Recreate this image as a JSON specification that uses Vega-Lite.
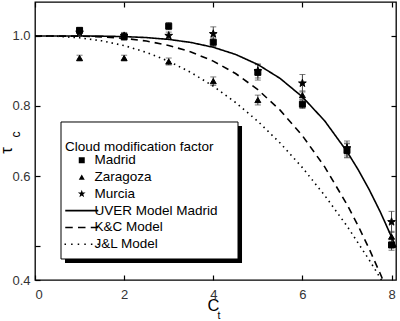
{
  "$schema": "https://vega.github.io/schema/vega-lite/v6.json",
  "width": 361,
  "height": 278,
  "autosize": {"type": "none"},
  "padding": {"left": 35, "top": 2, "right": 4, "bottom": 41},
  "background": "white",
  "config": {
    "font": "Liberation Sans",
    "view": {"stroke": "black", "strokeWidth": 1.3},
    "axis": {
      "domain": false,
      "grid": false,
      "tickColor": "black",
      "tickWidth": 1.2,
      "tickSize": -5,
      "labelFont": "Liberation Sans",
      "labelFontSize": 13,
      "labelColor": "#333",
      "titleFont": "Liberation Sans",
      "titleColor": "black",
      "titleFontWeight": "normal"
    },
    "legend": {
      "orient": "none",
      "legendX": 26,
      "legendY": 120,
      "strokeColor": "transparent",
      "fillColor": "transparent",
      "padding": 4,
      "titleFont": "Liberation Sans",
      "titleFontSize": 13.5,
      "titleFontWeight": "normal",
      "titleColor": "black",
      "titlePadding": 0,
      "titleLineHeight": 14,
      "labelFont": "Liberation Sans",
      "labelFontSize": 13.5,
      "labelColor": "black",
      "labelOffset": 6,
      "symbolOffset": 10,
      "symbolSize": 36,
      "symbolStrokeColor": "black",
      "symbolFillColor": "black",
      "symbolStrokeWidth": 0,
      "rowPadding": 1.8
    }
  },
  "datasets": {
    "obs": [
      {"series": "Madrid", "ct": 1, "tau": 1.016, "err": 0.008},
      {"series": "Madrid", "ct": 2, "tau": 0.998, "err": 0.01},
      {"series": "Madrid", "ct": 3, "tau": 1.028, "err": 0.01},
      {"series": "Madrid", "ct": 4, "tau": 0.982, "err": 0.012},
      {"series": "Madrid", "ct": 5, "tau": 0.896, "err": 0.022},
      {"series": "Madrid", "ct": 6, "tau": 0.805, "err": 0.012},
      {"series": "Madrid", "ct": 7, "tau": 0.674, "err": 0.02},
      {"series": "Madrid", "ct": 8, "tau": 0.403, "err": 0.015},
      {"series": "Zaragoza", "ct": 1, "tau": 0.937, "err": 0.008},
      {"series": "Zaragoza", "ct": 2, "tau": 0.937, "err": 0.008},
      {"series": "Zaragoza", "ct": 3, "tau": 0.927, "err": 0.01},
      {"series": "Zaragoza", "ct": 4, "tau": 0.871, "err": 0.012},
      {"series": "Zaragoza", "ct": 5, "tau": 0.817, "err": 0.014},
      {"series": "Zaragoza", "ct": 6, "tau": 0.831, "err": 0.012},
      {"series": "Zaragoza", "ct": 7, "tau": 0.672, "err": 0.02},
      {"series": "Zaragoza", "ct": 8, "tau": 0.427, "err": 0.015},
      {"series": "Murcia", "ct": 1, "tau": 1.01, "err": 0.01},
      {"series": "Murcia", "ct": 2, "tau": 1.0, "err": 0.01},
      {"series": "Murcia", "ct": 3, "tau": 1.001, "err": 0.01},
      {"series": "Murcia", "ct": 4, "tau": 1.006, "err": 0.02},
      {"series": "Murcia", "ct": 5, "tau": 0.9, "err": 0.02},
      {"series": "Murcia", "ct": 6, "tau": 0.865, "err": 0.025},
      {"series": "Murcia", "ct": 7, "tau": 0.68, "err": 0.02},
      {"series": "Murcia", "ct": 8, "tau": 0.469, "err": 0.03}
    ],
    "models": [
      {"series": "UVER Model Madrid", "ct": 0, "tau": 1.0},
      {"series": "UVER Model Madrid", "ct": 1, "tau": 0.9999},
      {"series": "UVER Model Madrid", "ct": 1.5, "tau": 0.9995},
      {"series": "UVER Model Madrid", "ct": 2, "tau": 0.9982},
      {"series": "UVER Model Madrid", "ct": 2.5, "tau": 0.9954},
      {"series": "UVER Model Madrid", "ct": 3, "tau": 0.9902},
      {"series": "UVER Model Madrid", "ct": 3.5, "tau": 0.9814},
      {"series": "UVER Model Madrid", "ct": 4, "tau": 0.9677},
      {"series": "UVER Model Madrid", "ct": 4.5, "tau": 0.9473},
      {"series": "UVER Model Madrid", "ct": 5, "tau": 0.9184},
      {"series": "UVER Model Madrid", "ct": 5.5, "tau": 0.8787},
      {"series": "UVER Model Madrid", "ct": 6, "tau": 0.826},
      {"series": "UVER Model Madrid", "ct": 6.5, "tau": 0.7575},
      {"series": "UVER Model Madrid", "ct": 7, "tau": 0.67},
      {"series": "UVER Model Madrid", "ct": 7.25, "tau": 0.6184},
      {"series": "UVER Model Madrid", "ct": 7.5, "tau": 0.5608},
      {"series": "UVER Model Madrid", "ct": 7.75, "tau": 0.4968},
      {"series": "UVER Model Madrid", "ct": 8, "tau": 0.4258},
      {"series": "UVER Model Madrid", "ct": 8.1, "tau": 0.3954},
      {"series": "K&C Model", "ct": 0, "tau": 1.0},
      {"series": "K&C Model", "ct": 1, "tau": 0.9994},
      {"series": "K&C Model", "ct": 1.5, "tau": 0.9974},
      {"series": "K&C Model", "ct": 2, "tau": 0.9932},
      {"series": "K&C Model", "ct": 2.5, "tau": 0.9855},
      {"series": "K&C Model", "ct": 3, "tau": 0.973},
      {"series": "K&C Model", "ct": 3.5, "tau": 0.9544},
      {"series": "K&C Model", "ct": 4, "tau": 0.9282},
      {"series": "K&C Model", "ct": 4.5, "tau": 0.8928},
      {"series": "K&C Model", "ct": 5, "tau": 0.8468},
      {"series": "K&C Model", "ct": 5.5, "tau": 0.7881},
      {"series": "K&C Model", "ct": 6, "tau": 0.7151},
      {"series": "K&C Model", "ct": 6.5, "tau": 0.6261},
      {"series": "K&C Model", "ct": 7, "tau": 0.5188},
      {"series": "K&C Model", "ct": 7.25, "tau": 0.458},
      {"series": "K&C Model", "ct": 7.5, "tau": 0.3914},
      {"series": "K&C Model", "ct": 7.75, "tau": 0.32},
      {"series": "K&C Model", "ct": 7.82, "tau": 0.2987},
      {"series": "J&L Model", "ct": 0, "tau": 1.0},
      {"series": "J&L Model", "ct": 0.5, "tau": 0.999},
      {"series": "J&L Model", "ct": 1, "tau": 0.9947},
      {"series": "J&L Model", "ct": 1.5, "tau": 0.9861},
      {"series": "J&L Model", "ct": 2, "tau": 0.9725},
      {"series": "J&L Model", "ct": 2.5, "tau": 0.9532},
      {"series": "J&L Model", "ct": 3, "tau": 0.9277},
      {"series": "J&L Model", "ct": 3.5, "tau": 0.8957},
      {"series": "J&L Model", "ct": 4, "tau": 0.8567},
      {"series": "J&L Model", "ct": 4.5, "tau": 0.81},
      {"series": "J&L Model", "ct": 5, "tau": 0.7563},
      {"series": "J&L Model", "ct": 5.5, "tau": 0.6942},
      {"series": "J&L Model", "ct": 6, "tau": 0.624},
      {"series": "J&L Model", "ct": 6.5, "tau": 0.5445},
      {"series": "J&L Model", "ct": 7, "tau": 0.4572},
      {"series": "J&L Model", "ct": 7.5, "tau": 0.36},
      {"series": "J&L Model", "ct": 7.75, "tau": 0.308},
      {"series": "J&L Model", "ct": 7.8, "tau": 0.2975}
    ]
  },
  "resolve": {"axis": {"x": "independent", "y": "independent"}},
  "layer": [
    {
      "data": {"name": "obs"},
      "mark": {"type": "point", "opacity": 0},
      "encoding": {
        "x": {"field": "ct", "type": "quantitative",
              "scale": {"domain": [0, 8.1], "nice": false, "zero": false},
              "axis": {"orient": "bottom", "values": [0, 2, 4, 6, 8], "labelPadding": 13, "title": "C",
                       "titleFontSize": 16.5, "titleBaseline": "middle", "titleX": 178, "titleY": 25}},
        "y": {"field": "tau", "type": "quantitative",
              "scale": {"domain": [0.303, 1.097], "nice": false, "zero": false},
              "axis": {"orient": "left", "values": [0.303, 0.4, 0.6, 0.8, 1.0], "labelPadding": 10,
                       "labelExpr": "datum.value < 0.35 ? '0.4' : (datum.value < 0.5 ? '' : format(datum.value, '.1f'))",
                       "title": "τ", "titleFontSize": 17, "titleBaseline": "middle", "titleX": -29, "titleY": 148}}
      }
    },
    {
      "data": {"name": "obs"},
      "mark": {"type": "point", "opacity": 0},
      "encoding": {
        "x": {"field": "ct", "type": "quantitative",
              "scale": {"domain": [0, 8.1], "nice": false, "zero": false},
              "axis": {"orient": "top", "values": [0, 2, 4, 6, 8], "labels": false, "title": null}},
        "y": {"field": "tau", "type": "quantitative",
              "scale": {"domain": [0.303, 1.097], "nice": false, "zero": false},
              "axis": {"orient": "right", "values": [0.4, 0.6, 0.8, 1.0], "labels": false, "title": null}}
      }
    },
    {
      "data": {"name": "obs"},
      "mark": {"type": "point", "opacity": 0},
      "encoding": {
        "x": {"field": "ct", "type": "quantitative",
              "scale": {"domain": [0, 8.1], "nice": false, "zero": false},
              "axis": {"orient": "bottom", "ticks": false, "labels": false, "title": "t",
                       "titleFontSize": 10.5, "titleBaseline": "middle", "titleX": 183.5, "titleY": 35}},
        "y": {"field": "tau", "type": "quantitative",
              "scale": {"domain": [0.303, 1.097], "nice": false, "zero": false},
              "axis": {"orient": "left", "ticks": false, "labels": false, "title": "c",
                       "titleFontSize": 12, "titleBaseline": "middle", "titleX": -20, "titleY": 132}}
      }
    },
    {
      "data": {"values": [{}]},
      "mark": {"type": "rect", "color": "black"},
      "encoding": {
        "x": {"datum": 0.673, "type": "quantitative", "scale": {"domain": [0, 8.1], "nice": false, "zero": false}, "axis": null},
        "x2": {"datum": 4.645},
        "y": {"datum": 0.7428, "type": "quantitative", "scale": {"domain": [0.303, 1.097], "nice": false, "zero": false}, "axis": null},
        "y2": {"datum": 0.3515}
      }
    },
    {
      "data": {"values": [{}]},
      "mark": {"type": "rect", "fill": "white", "stroke": "black", "strokeWidth": 1},
      "encoding": {
        "x": {"datum": 0.5834, "type": "quantitative", "scale": {"domain": [0, 8.1], "nice": false, "zero": false}, "axis": null},
        "x2": {"datum": 4.555},
        "y": {"datum": 0.7543, "type": "quantitative", "scale": {"domain": [0.303, 1.097], "nice": false, "zero": false}, "axis": null},
        "y2": {"datum": 0.363}
      }
    },
    {
      "data": {"name": "obs"},
      "mark": {"type": "errorbar", "ticks": {"size": 6, "color": "#444"}, "color": "#444", "thickness": 1},
      "encoding": {
        "x": {"field": "ct", "type": "quantitative", "scale": {"domain": [0, 8.1], "nice": false, "zero": false}, "axis": null},
        "y": {"field": "tau", "type": "quantitative", "scale": {"domain": [0.303, 1.097], "nice": false, "zero": false}, "axis": null},
        "yError": {"field": "err"}
      }
    },
    {
      "data": {"name": "obs"},
      "mark": {"type": "point", "filled": true, "size": 36, "opacity": 1, "color": "black", "stroke": "black", "strokeWidth": 1},
      "encoding": {
        "x": {"field": "ct", "type": "quantitative", "scale": {"domain": [0, 8.1], "nice": false, "zero": false}, "axis": null},
        "y": {"field": "tau", "type": "quantitative", "scale": {"domain": [0.303, 1.097], "nice": false, "zero": false}, "axis": null},
        "shape": {
          "field": "series", "type": "nominal",
          "scale": {
            "domain": ["Madrid", "Zaragoza", "Murcia", "UVER Model Madrid", "K&C Model", "J&L Model"],
            "range": ["square", "triangle-up",
                      "M0,-1.35L0.317,-0.437L1.284,-0.417L0.513,0.167L0.794,1.092L0,0.54L-0.794,1.092L-0.513,0.167L-1.284,-0.417L-0.317,-0.437Z",
                      "M-5.5,-0.27H5.5V0.27H-5.5Z",
                      "M-5.5,-0.27H-3V0.27H-5.5Z M-1.25,-0.27H1.25V0.27H-1.25Z M3,-0.27H5.5V0.27H3Z",
                      "M-5.75,-0.27H-5.25V0.27H-5.75Z M-3.55,-0.27H-3.05V0.27H-3.55Z M-1.35,-0.27H-0.85V0.27H-1.35Z M0.85,-0.27H1.35V0.27H0.85Z M3.05,-0.27H3.55V0.27H3.05Z M5.25,-0.27H5.75V0.27H5.25Z"]
          },
          "legend": {"title": ["", "Cloud modification factor"], "symbolStrokeWidth": 0}
        }
      }
    },
    {
      "data": {"name": "models"},
      "mark": {"type": "line", "color": "black", "strokeWidth": 1.6, "clip": true},
      "encoding": {
        "x": {"field": "ct", "type": "quantitative", "scale": {"domain": [0, 8.1], "nice": false, "zero": false}, "axis": null},
        "y": {"field": "tau", "type": "quantitative", "scale": {"domain": [0.303, 1.097], "nice": false, "zero": false}, "axis": null},
        "strokeDash": {
          "field": "series", "type": "nominal",
          "scale": {
            "domain": ["UVER Model Madrid", "K&C Model", "J&L Model"],
            "range": [[1, 0], [7, 5], [1.5, 4]]
          },
          "legend": null
        }
      }
    }
  ]
}
